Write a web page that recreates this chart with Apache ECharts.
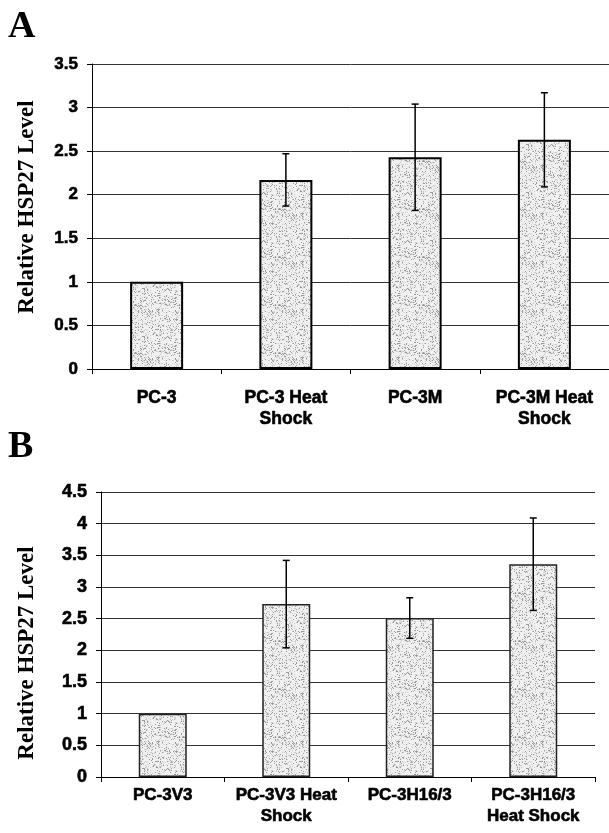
<!DOCTYPE html>
<html>
<head>
<meta charset="utf-8">
<script src="https://cdn.jsdelivr.net/npm/echarts@6/dist/echarts.min.js"></script>
<style>
html,body{margin:0;padding:0;background:#fff;}
#chart{width:609px;height:833px;}
</style>
</head>
<body>
<div id="chart"></div>
<script>
// Panel A data
const categoriesA = ['PC-3', 'PC-3 Heat\nShock', 'PC-3M', 'PC-3M Heat\nShock'];
const valuesA = [1, 2.17, 2.43, 2.63];
const errorsA = [0, 0.30, 0.61, 0.54];
const yMaxA = 3.5;

// Panel B data
const categoriesB = ['PC-3V3', 'PC-3V3 Heat\nShock', 'PC-3H16/3', 'PC-3H16/3\nHeat Shock'];
const valuesB = [1, 2.73, 2.51, 3.36];
const errorsB = [0, 0.69, 0.32, 0.73];
const yMaxB = 4.5;

const yTitle = 'Relative HSP27 Level';
const yInterval = 0.5;

// stipple texture (deterministic hash pattern)
function makePattern() {
  const c = document.createElement('canvas');
  c.width = 48; c.height = 48;
  const ctx = c.getContext('2d');
  ctx.fillStyle = '#f0f0f0';
  ctx.fillRect(0, 0, 48, 48);
  for (let y = 0; y < 48; y++) {
    for (let x = 0; x < 48; x++) {
      const h = ((x * 73856093) ^ (y * 19349663) ^ ((x + y) * 83492791)) >>> 0;
      const r = h % 100;
      if (r < 12) { ctx.fillStyle = '#999'; ctx.fillRect(x, y, 1, 1); }
      else if (r < 24) { ctx.fillStyle = '#cacaca'; ctx.fillRect(x, y, 1, 1); }
    }
  }
  return c;
}
const pattern = makePattern();

function errData(vals, errs) {
  const out = [];
  vals.forEach((v, i) => { if (errs[i] > 0) out.push([i, v - errs[i], v + errs[i]]); });
  return out;
}

function errRender(params, api) {
  const i = api.value(0);
  const lo = api.value(1), hi = api.value(2);
  const pHi = api.coord([i, hi]);
  const pLo = api.coord([i, lo]);
  const w = 3.5;
  const st = { stroke: '#000', lineWidth: 1.5 };
  return {
    type: 'group',
    children: [
      { type: 'line', shape: { x1: pHi[0], y1: pHi[1], x2: pLo[0], y2: pLo[1] }, style: st },
      { type: 'line', shape: { x1: pHi[0] - w, y1: pHi[1], x2: pHi[0] + w, y2: pHi[1] }, style: st },
      { type: 'line', shape: { x1: pLo[0] - w, y1: pLo[1], x2: pLo[0] + w, y2: pLo[1] }, style: st }
    ]
  };
}

const chart = echarts.init(document.getElementById('chart'), null, { renderer: 'canvas' });

function yAxisCfg(gi, max, fs) {
  return {
    type: 'value', gridIndex: gi, min: 0, max: max, interval: yInterval,
    axisLine: { show: true, lineStyle: { color: '#000', width: 1 } },
    axisTick: { show: true, length: 5, lineStyle: { color: '#000' } },
    axisLabel: { color: '#000', fontFamily: 'Liberation Sans', fontWeight: 'bold', fontSize: fs, margin: 14,
      textBorderColor: '#000', textBorderWidth: 0.6 },
    splitLine: { show: true, lineStyle: { color: '#333', width: 1 } }
  };
}
function xAxisCfg(gi, cats, fs, margin) {
  return {
    type: 'category', gridIndex: gi, data: cats,
    axisLine: { show: true, lineStyle: { color: '#000', width: 1 } },
    axisTick: { show: true, length: 5, lineStyle: { color: '#000' } },
    axisLabel: { color: '#000', fontFamily: 'Liberation Sans', fontWeight: 'bold', fontSize: fs, lineHeight: 21, margin: margin, interval: 0,
      textBorderColor: '#000', textBorderWidth: 0.6 }
  };
}

const option = {
  animation: false,
  backgroundColor: '#fff',
  grid: [
    { left: 92, top: 64, width: 521, height: 305 },
    { left: 101, top: 492, width: 494, height: 285 }
  ],
  xAxis: [xAxisCfg(0, categoriesA, 17.5, 19), xAxisCfg(1, categoriesB, 17, 8)],
  yAxis: [yAxisCfg(0, yMaxA, 17), yAxisCfg(1, yMaxB, 18)],
  series: [
    {
      type: 'bar', xAxisIndex: 0, yAxisIndex: 0, data: valuesA, barWidth: 53,
      itemStyle: { color: { image: pattern, repeat: 'repeat' }, borderColor: '#000', borderWidth: 2 }
    },
    {
      type: 'custom', xAxisIndex: 0, yAxisIndex: 0, data: errData(valuesA, errorsA),
      renderItem: errRender, z: 10
    },
    {
      type: 'bar', xAxisIndex: 1, yAxisIndex: 1, data: valuesB, barWidth: 48,
      itemStyle: { color: { image: pattern, repeat: 'repeat' }, borderColor: '#222', borderWidth: 1.5 }
    },
    {
      type: 'custom', xAxisIndex: 1, yAxisIndex: 1, data: errData(valuesB, errorsB),
      renderItem: errRender, z: 10
    }
  ],
  graphic: [
    { type: 'text', x: 8, y: 27, style: { text: 'A', font: 'bold 38px "Liberation Serif"', fill: '#000', align: 'left', verticalAlign: 'middle' } },
    { type: 'text', x: 8, y: 447, style: { text: 'B', font: 'bold 38px "Liberation Serif"', fill: '#000', align: 'left', verticalAlign: 'middle' } },
    { type: 'text', x: 27, y: 207, rotation: Math.PI / 2, style: { text: yTitle, font: 'bold 23px "Liberation Serif"', fill: '#000', align: 'center', verticalAlign: 'middle' } },
    { type: 'text', x: 27, y: 653, rotation: Math.PI / 2, style: { text: yTitle, font: 'bold 23px "Liberation Serif"', fill: '#000', align: 'center', verticalAlign: 'middle' } }
  ]
};
chart.setOption(option);
</script>
</body>
</html>
